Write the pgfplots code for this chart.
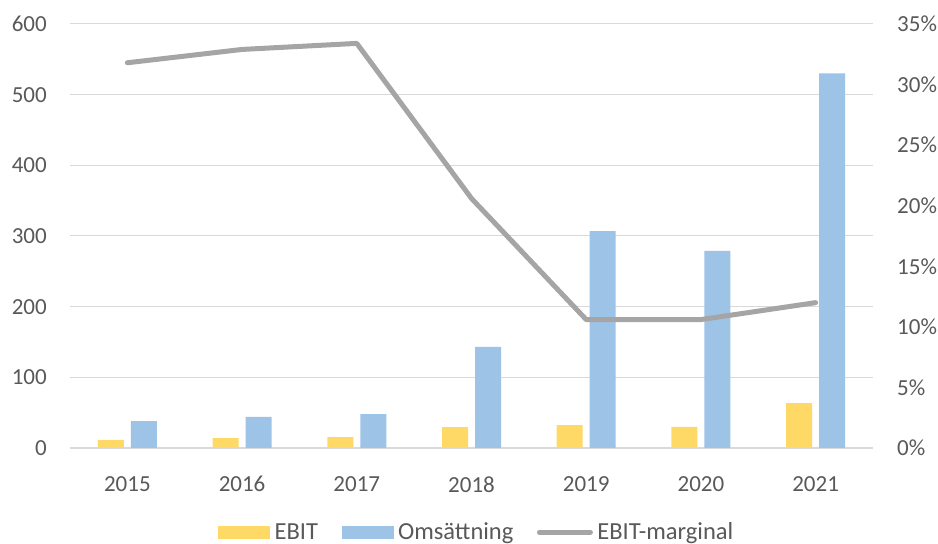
\documentclass[border=0pt]{standalone}
\usepackage{pgfplots}
\pgfplotsset{compat=1.18}
\usepackage{fontspec}
\setmainfont{Carlito}
\definecolor{cyel}{HTML}{FFD966}
\definecolor{cblue}{HTML}{9DC3E6}
\definecolor{cgray}{HTML}{A5A5A5}
\definecolor{ctext}{HTML}{595959}
\definecolor{cgrid}{HTML}{D9D9D9}
\begin{document}
\begin{tikzpicture}
\path[use as bounding box] (-70pt,-96pt) rectangle (868pt,448pt);
\pgfplotsset{
  every axis/.append style={
    scale only axis, width=803pt, height=424pt,
    xmin=-0.5, xmax=6.5,
    font=\fontsize{23}{27}\selectfont,
    /pgf/number format/assume math mode=true,
    tick style={draw=none},
    ticklabel style={color=ctext},
  }
}
\begin{axis}[
  ymin=0, ymax=600, ytick={0,100,...,600},
  axis y line*=left, axis x line*=bottom,
  y axis line style={draw=none},
  x axis line style={draw=cgrid, line width=1.2pt},
  ymajorgrids, grid style={cgrid, line width=1pt},
  xtick={0,...,6}, xticklabels={2015,2016,2017,2018,2019,2020,2021},
  xticklabel style={anchor=north, inner sep=0pt, yshift=-24pt},
  yticklabel style={anchor=east, inner sep=0pt, xshift=-23pt},
  ybar, bar width=26pt,
]
\addplot[fill=cyel, draw=none, bar shift=-16.5pt] coordinates {(0,11.5) (1,14) (2,15.5) (3,29.5) (4,32.5) (5,30) (6,63.5)};
\addplot[fill=cblue, draw=none, bar shift=16.5pt] coordinates {(0,38) (1,44) (2,48) (3,143) (4,307) (5,279) (6,530)};
\end{axis}
\begin{axis}[
  ymin=0, ymax=35, ytick={0,5,...,35},
  yticklabel={\pgfmathprintnumber{\tick}\%},
  axis y line*=right, axis x line=none,
  y axis line style={draw=none},
  yticklabel style={anchor=west, inner sep=0pt, xshift=24pt},
  legend style={draw=none, at={(0.5,0)}, yshift=-84pt, xshift=6.5pt, anchor=center,
    font=\fontsize{24.5}{28}\selectfont\color{ctext},
    nodes={inner xsep=4.5pt, inner ysep=3pt},
    /tikz/every even column/.append style={column sep=19pt}},
  legend columns=3,
]
\addlegendimage{area legend, fill=cyel, draw=none, legend image code/.code={\fill[cyel] (0pt,-6.5pt) rectangle (52pt,6.5pt);}}
\addlegendentry{EBIT}
\addlegendimage{area legend, fill=cblue, draw=none, legend image code/.code={\fill[cblue] (0pt,-6.5pt) rectangle (52pt,6.5pt);}}
\addlegendentry{Omsättning}
\addplot[cgray, line width=5pt, line cap=round, line join=round, legend image code/.code={\draw[cgray, line width=5pt, line cap=round] (2.5pt,0pt) -- (53.5pt,0pt);}] coordinates {(0,31.8) (1,32.9) (2,33.4) (3,20.6) (4,10.6) (5,10.6) (6,12.0)};
\addlegendentry{EBIT-marginal}
\end{axis}
\end{tikzpicture}
\end{document}
